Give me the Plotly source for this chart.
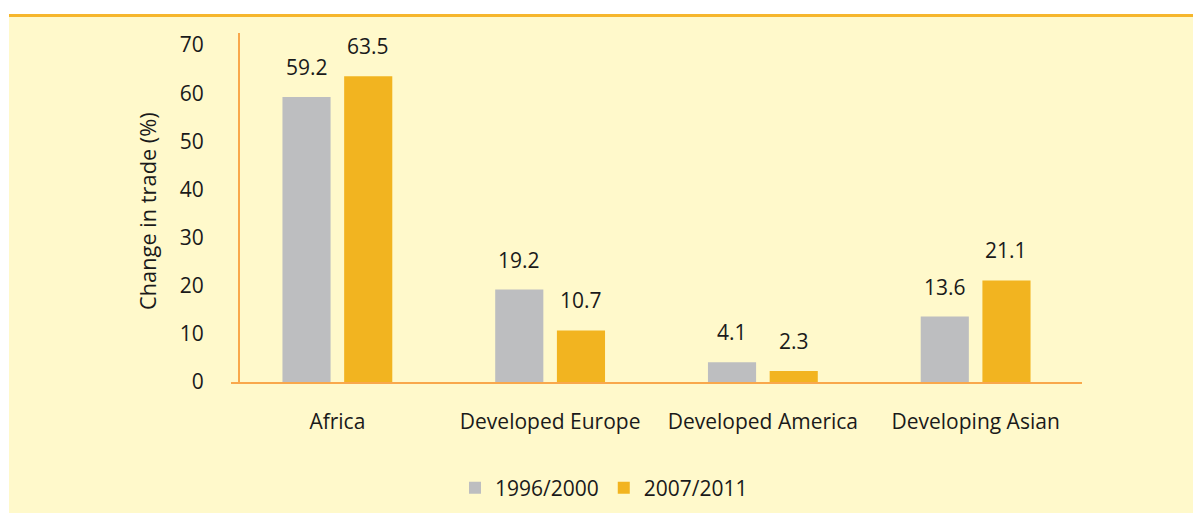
import plotly.graph_objects as go

categories = ["Africa", "Developed Europe", "Developed America", "Developing Asian"]
series_names = ["1996/2000", "2007/2011"]
values_1996_2000 = [59.2, 19.2, 4.1, 13.6]
values_2007_2011 = [63.5, 10.7, 2.3, 21.1]
colors = ["#BDBEC0", "#F2B420"]
y_ticks = [0, 10, 20, 30, 40, 50, 60, 70]

W, H = 1193, 513
FONT = "Open Sans"
TXT = "#1a1a1a"
FS = 21

def px(x):
    return x / W

def py(y):
    return 1 - y / H

fig = go.Figure()
for name, vals, col in zip(series_names, [values_1996_2000, values_2007_2011], colors):
    fig.add_trace(go.Bar(x=categories, y=vals, name=name, marker=dict(color=col, line=dict(width=0))))

# value labels above bars
slot = 61.5
for i, vals in enumerate([values_1996_2000, values_2007_2011]):
    shift = (-slot / 2) if i == 0 else (slot / 2)
    for c, v in zip(categories, vals):
        fig.add_annotation(x=c, y=v, xref="x", yref="y", text=f"{v:.1f}", showarrow=False,
                           yanchor="bottom", xshift=shift, yshift=14,
                           font=dict(family=FONT, size=FS, color=TXT))

fig.add_annotation(x=px(148), y=py(211), xref="paper", yref="paper", text="Change in trade (%)",
                   textangle=-90, showarrow=False, xanchor="center", yanchor="middle",
                   font=dict(family=FONT, size=21.8, color=TXT))

shapes = [
    dict(type="rect", xref="paper", yref="paper", x0=px(9), x1=1, y0=0, y1=py(16),
         fillcolor="#FFF9CB", line=dict(width=0), layer="below"),
    dict(type="line", xref="paper", yref="paper", x0=px(9), x1=1, y0=py(15.5), y1=py(15.5),
         line=dict(color="#F6B62C", width=3), layer="below"),
]

fig.update_layout(
    width=W, height=H, autosize=False,
    margin=dict(l=0, r=0, t=0, b=0),
    paper_bgcolor="white", plot_bgcolor="rgba(0,0,0,0)",
    barmode="group", bargap=0.42, bargroupgap=0.22,
    shapes=shapes,
    showlegend=True,
    legend=dict(orientation="h", x=px(604), xanchor="center", y=py(488), yanchor="middle",
                font=dict(family=FONT, size=FS, color=TXT), bgcolor="rgba(0,0,0,0)",
                traceorder="normal"),
    xaxis=dict(domain=[px(231), px(1082)], showline=True, linecolor="#F9A84C", linewidth=2,
               ticks="", tickfont=dict(family=FONT, size=FS, color=TXT), ticklabelstandoff=20,
               showgrid=False, zeroline=False, fixedrange=True, automargin=False),
    yaxis=dict(domain=[py(382), py(33)], range=[0, 72.5], anchor="free", position=px(239),
               showline=True, linecolor="#F9A84C", linewidth=2, tickvals=y_ticks,
               ticks="", tickfont=dict(family=FONT, size=FS, color=TXT), ticklabelstandoff=30,
               showgrid=False, zeroline=False, fixedrange=True, automargin=False),
    font=dict(family=FONT),
)

fig.write_html(
    "out.html",
    config={"responsive": False, "displayModeBar": False},
    post_script="document.body.style.margin='0';document.body.style.overflow='hidden';",
)
